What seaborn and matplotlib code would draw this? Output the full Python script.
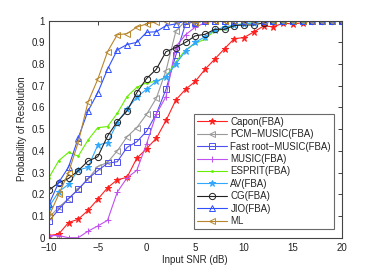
import matplotlib
matplotlib.use('Agg')
import matplotlib.pyplot as plt
import numpy as np
import pandas as pd
import seaborn as sns

snr = list(range(-10, 21))

capon = [0.01, 0.017, 0.07, 0.085, 0.126, 0.177, 0.23, 0.267, 0.278, 0.366, 0.41,
         0.458, 0.54, 0.634, 0.684, 0.72, 0.776, 0.823, 0.871, 0.917, 0.922,
         0.948, 0.975, 0.972, 0.988, 0.985, 0.99, 1.0, 1.0, 1.0, 1.0]
pcm_music = [0.094, 0.14, 0.18, 0.223, 0.27, 0.327, 0.347, 0.40, 0.465, 0.507, 0.568,
             0.642, 0.77, 0.95, 1.0, 1.0, 1.0, 1.0, 1.0, 1.0, 1.0,
             1.0, 1.0, 1.0, 1.0, 1.0, 1.0, 1.0, 1.0, 1.0, 1.0]
fast_root = [0.078, 0.13, 0.18, 0.223, 0.272, 0.309, 0.343, 0.35, 0.416, 0.442, 0.49,
             0.57, 0.684, 0.84, 0.985, 0.995, 1.0, 1.0, 1.0, 1.0, 1.0,
             1.0, 1.0, 1.0, 1.0, 1.0, 1.0, 1.0, 1.0, 1.0, 1.0]
music = [0.01, 0.01, 0.0, 0.0, 0.03, 0.054, 0.08, 0.21, 0.276, 0.31, 0.432,
         0.57, 0.65, 0.88, 0.935, 0.97, 0.99, 1.0, 1.0, 1.0, 1.0,
         1.0, 1.0, 1.0, 1.0, 1.0, 1.0, 1.0, 1.0, 1.0, 1.0]
esprit = [0.277, 0.355, 0.393, 0.376, 0.45, 0.507, 0.512, 0.573, 0.65, 0.693, 0.714,
          0.72, 0.74, 0.81, 0.865, 0.895, 0.915, 0.955, 0.96, 0.98, 0.985,
          0.99, 1.0, 1.0, 1.0, 1.0, 1.0, 1.0, 1.0, 1.0, 1.0]
av = [0.143, 0.212, 0.246, 0.312, 0.324, 0.427, 0.438, 0.53, 0.593, 0.647, 0.684,
      0.72, 0.74, 0.80, 0.86, 0.90, 0.926, 0.957, 0.97, 0.98, 0.985,
      0.99, 1.0, 1.0, 1.0, 1.0, 1.0, 1.0, 1.0, 1.0, 1.0]
cg = [0.22, 0.253, 0.273, 0.309, 0.353, 0.373, 0.468, 0.535, 0.584, 0.668, 0.733,
      0.776, 0.857, 0.876, 0.9, 0.93, 0.937, 0.96, 0.96, 0.977, 0.98,
      0.98, 0.99, 1.0, 1.0, 1.0, 1.0, 1.0, 1.0, 1.0, 1.0]
jio = [0.155, 0.255, 0.325, 0.46, 0.584, 0.668, 0.776, 0.865, 0.89, 0.9, 0.946,
       0.949, 0.977, 0.985, 1.0, 0.99, 1.0, 1.0, 1.0, 1.0, 1.0,
       1.0, 1.0, 1.0, 1.0, 1.0, 1.0, 1.0, 1.0, 1.0, 1.0]
ml = [0.10, 0.20, 0.30, 0.44, 0.625, 0.73, 0.857, 0.935, 0.94, 0.97, 0.985,
      0.995, 1.0, 1.0, 1.0, 0.99, 1.0, 1.0, 1.0, 1.0, 1.0,
      1.0, 1.0, 1.0, 1.0, 1.0, 1.0, 1.0, 1.0, 1.0, 1.0]

labels = ['Capon(FBA)', 'PCM\u2212MUSIC(FBA)', 'Fast root\u2212MUSIC(FBA)', 'MUSIC(FBA)',
          'ESPRIT(FBA)', 'AV(FBA)', 'CG(FBA)', 'JIO(FBA)', 'ML']
series = [capon, pcm_music, fast_root, music, esprit, av, cg, jio, ml]
colors = ['#ff2020', '#999999', '#5050f0', '#c050f0', '#66ee00', '#30a8ff',
          '#222222', '#3050ff', '#b8862c']
markers = ['*', '<', 's', '+', '.', '*', 'o', '^', '<']
hollow = [False, True, True, False, False, False, True, True, True]
msizes = [4.5, 4.5, 4, 5, 2.5, 4.5, 4.5, 4.5, 4.5]

sns.set_style('white')
plt.rcParams['font.family'] = ['Liberation Sans', 'DejaVu Sans']

fig = plt.figure(figsize=(3.77, 2.68), dpi=100)
ax = fig.add_axes([0.130, 0.113, 0.776, 0.810])

for lab, vals, c, m, h, ms in zip(labels, series, colors, markers, hollow, msizes):
    df = pd.DataFrame({'snr': snr, 'p': vals})
    sns.lineplot(data=df, x='snr', y='p', ax=ax, color=c, marker=m, label=lab,
                 markersize=ms, linewidth=0.8, mec=c, mew=0.7,
                 markerfacecolor='none' if h else c)

ax.set_xlim(-10, 20)
ax.set_ylim(0, 1)
ax.set_xticks([-10, -5, 0, 5, 10, 15, 20])
ax.set_xticklabels(['\u221210', '\u22125', '0', '5', '10', '15', '20'])
ax.set_yticks(np.arange(0, 1.01, 0.1))
ax.set_yticklabels(['0', '0.1', '0.2', '0.3', '0.4', '0.5', '0.6', '0.7', '0.8', '0.9', '1'])
ax.tick_params(direction='in', length=3, width=0.6, labelsize=7, colors='#222222',
               top=True, right=True)
ax.tick_params(axis='x', pad=4)
ax.tick_params(axis='y', pad=3)
for s in ax.spines.values():
    s.set_color('#444444')
    s.set_linewidth(0.8)
ax.set_xlabel('Input SNR (dB)', fontsize=7, labelpad=1)
ax.set_ylabel('Probability of Resolution', fontsize=7, labelpad=3)

leg = ax.legend(loc='lower right', bbox_to_anchor=(0.974, 0.04), fontsize=7,
                frameon=True, fancybox=False, borderpad=0.3, labelspacing=0.25,
                handlelength=3.0, handletextpad=0.4, borderaxespad=0)
leg.get_frame().set_edgecolor('#444444')
leg.get_frame().set_linewidth(0.8)

fig.savefig('out.png', dpi=100)
